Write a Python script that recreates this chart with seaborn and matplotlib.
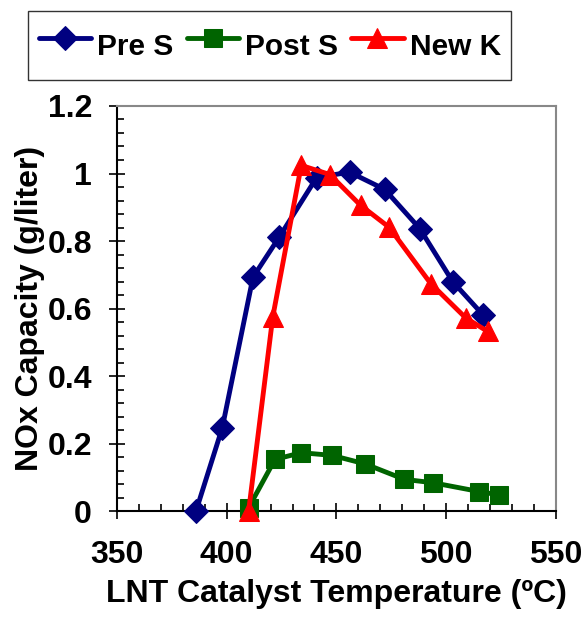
import matplotlib
matplotlib.use("Agg")
import matplotlib.pyplot as plt
import seaborn as sns
import pandas as pd
from matplotlib.ticker import MultipleLocator

# values
pre_s_temp = [386, 398, 412, 424, 441, 456, 472, 488, 503, 517]
pre_s_cap = [0.0, 0.247, 0.693, 0.812, 0.988, 1.004, 0.953, 0.837, 0.680, 0.580]

post_s_temp = [410, 422, 434, 448, 463, 481, 494, 515, 524]
post_s_cap = [0.01, 0.153, 0.173, 0.165, 0.140, 0.094, 0.084, 0.058, 0.048]

new_k_temp = [410, 421, 434, 447, 461, 474, 493, 509, 519]
new_k_cap = [0.0, 0.575, 1.024, 0.997, 0.906, 0.841, 0.674, 0.572, 0.532]

series_names = ["Pre S", "Post S", "New K"]
x_ticks = [350, 400, 450, 500, 550]
y_ticks = [0, 0.2, 0.4, 0.6, 0.8, 1.0, 1.2]
y_tick_labels = ["0", "0.2", "0.4", "0.6", "0.8", "1", "1.2"]

sns.set_style("ticks")
plt.rcParams["font.family"] = ["Liberation Sans", "DejaVu Sans"]
plt.rcParams["font.weight"] = "bold"
plt.rcParams["text.color"] = "black"
plt.rcParams["axes.labelcolor"] = "black"
plt.rcParams["xtick.color"] = "black"
plt.rcParams["ytick.color"] = "black"

fig = plt.figure(figsize=(5.85, 6.18), dpi=100)
ax = fig.add_axes([0.2, 0.173, 0.75, 0.6555])

styles = {
    "Pre S": dict(color="#000080", marker="D", markersize=12.5),
    "Post S": dict(color="#006400", marker="s", markersize=13),
    "New K": dict(color="#FF0000", marker="^", markersize=15),
}
data = {
    "Pre S": (pre_s_temp, pre_s_cap),
    "Post S": (post_s_temp, post_s_cap),
    "New K": (new_k_temp, new_k_cap),
}

for name in series_names:
    xs, ys = data[name]
    df = pd.DataFrame({"temp": xs, "cap": ys})
    st = styles[name]
    sns.lineplot(data=df, x="temp", y="cap", ax=ax, label=name,
                 color=st["color"], marker=st["marker"], markersize=st["markersize"],
                 markeredgecolor=st["color"], linewidth=3.5, clip_on=False, zorder=3)

if ax.get_legend() is not None:
    ax.get_legend().remove()

ax.set_xlim(350, 550)
ax.set_ylim(0, 1.2)
ax.set_xticks(x_ticks)
ax.set_yticks(y_ticks)
ax.set_yticklabels(y_tick_labels)
ax.xaxis.set_minor_locator(MultipleLocator(10))
ax.yaxis.set_minor_locator(MultipleLocator(0.04))

ax.tick_params(axis="both", which="major", direction="inout", length=12, width=1.2,
               labelsize=23, color="black", labelcolor="black")
ax.tick_params(axis="x", which="major", pad=15)
ax.tick_params(axis="y", which="major", pad=12)
ax.tick_params(axis="both", which="minor", direction="in", length=5, width=1.2, color="black")

for side in ["left", "bottom"]:
    ax.spines[side].set_color("black")
    ax.spines[side].set_linewidth(1.5)
for side in ["top", "right"]:
    ax.spines[side].set_visible(True)
    ax.spines[side].set_color("#888888")
    ax.spines[side].set_linewidth(1.5)

ax.set_xlabel("LNT Catalyst Temperature (\u00baC)", fontsize=23, fontweight="bold",
              labelpad=6, color="black")
ax.set_ylabel("NOx Capacity (g/liter)", fontsize=23, fontweight="bold",
              labelpad=2, color="black")

handles, labels = ax.get_legend_handles_labels()
leg = fig.legend(handles, labels, loc="center", bbox_to_anchor=(0.461, 0.926), ncol=3,
                 fontsize=21.5, frameon=True, fancybox=False, edgecolor="black",
                 handlelength=1.75, handletextpad=0.2, columnspacing=0.45,
                 borderpad=0.35, handleheight=2.1)
leg.get_frame().set_linewidth(1.0)
for t in leg.get_texts():
    t.set_fontweight("bold")
    t.set_color("black")

fig.savefig("out.png", dpi=100)
